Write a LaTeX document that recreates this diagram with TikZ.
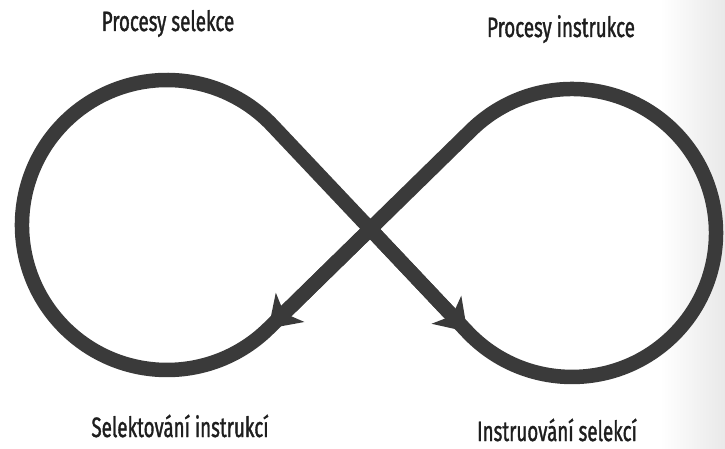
\documentclass[tikz,border=0pt]{standalone}
\usepackage{fontspec}
\setmainfont{Fira Sans}[FakeStretch=0.67,FakeBold=1.2]
\usetikzlibrary{arrows.meta}
\definecolor{Ink}{HTML}{3A3A3A}
\definecolor{Type}{HTML}{1E1E1E}
\definecolor{Shade}{HTML}{E9E9E9}
\tikzset{
  loopline/.style={line width=14.5pt,draw=Ink,line join=round},
  tipline/.style={
    line width=14.5pt,draw=Ink,
    -{Stealth[length=30pt,width=40pt,inset=8pt]}
  },
  caption/.style={
    anchor=base,inner sep=0pt,text=Type,
    font=\fontsize{28}{30}\selectfont
  }
}

\begin{document}
\begin{tikzpicture}[x=1pt,y=-1pt]
  \useasboundingbox (0,0) rectangle (725,449);
  \shade[left color=white,right color=Shade] (660,0) rectangle (725,449);
  % crossing point and tangent points of the two loops
  \coordinate (X) at (370.2,229);
  \coordinate (L1) at (272.4,125.5);
  \coordinate (L2) at (268.4,328.6);
  \coordinate (R1) at (471.3,130.1);
  \coordinate (R2) at (467.3,331.8);
  % the figure eight
  \draw[loopline] (L2) arc[start angle=45.61,end angle=316.65,radius=145]
    -- (R2) arc[start angle=136.655,end angle=-134.385,radius=144] -- cycle;
  % arrow heads where the lines run into the loops
  \draw[tipline] (X) -- (R2);
  \draw[tipline] (X) -- (L2);
  \node[caption] (sel) at (168,31) {Procesy selekce};
  \node[caption] (ins) at (561,37) {Procesy instrukce};
  \node[caption] (selins) at (180,437) {Selektování instrukcí};
  \node[caption] (inssel) at (557,441) {Instruování selekcí};
\end{tikzpicture}
\end{document}
